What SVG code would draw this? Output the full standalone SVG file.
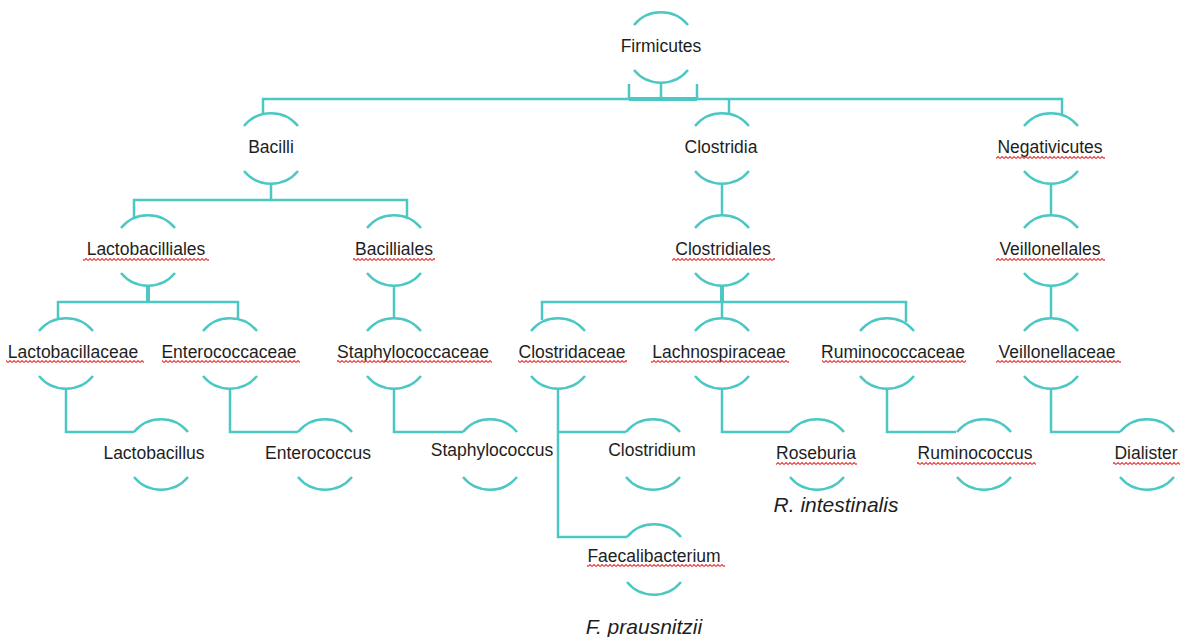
<svg xmlns="http://www.w3.org/2000/svg" xmlns:xlink="http://www.w3.org/1999/xlink" width="1189" height="637" viewBox="0 0 1189 637">
<style>
.arc{fill:none;stroke:#4cc8c4;stroke-width:2.5;stroke-linecap:butt}
.con{fill:none;stroke:#4cc8c4;stroke-width:2.5}
.lbl{font-family:"Liberation Sans","Noto Sans",sans-serif;font-size:17.5px;fill:#1e1e1e;text-anchor:middle}
.it{font-family:"Liberation Sans","Noto Sans",sans-serif;font-size:21px;font-style:italic;fill:#1e1e1e;text-anchor:middle}
.sq{fill:url(#sq)}
</style>
<defs>
<path id="arcs" d="M-27,-21 A35,35 0 0 1 27,-21 M-27,24 A35,35 0 0 0 27,24"/>
<pattern id="sq" width="4" height="3" patternUnits="userSpaceOnUse"><path d="M0,2.5 L2,0.5 L4,2.5" fill="none" stroke="#ee3b3b" stroke-width="1.1"/></pattern>
</defs>
<rect width="1189" height="637" fill="#fff"/>
<g id="connectors">
<path class="con" d="M629,84 V99 M661,82 V99 M697,84 V99"/>
<path class="con" style="stroke-width:4" d="M629,99 H697"/>
<path class="con" d="M263,115 V99 H1062 V115 M729,99 V115"/>
<path class="con" d="M271,184 V200 M134,218 V200 H407 V218"/>
<path class="con" d="M722,184 V216"/>
<path class="con" d="M1051,184 V216"/>
<path class="con" style="stroke-width:4" d="M148,286 V302"/>
<path class="con" d="M58,319 V302 H238 V320"/>
<path class="con" d="M394,286 V318"/>
<path class="con" style="stroke-width:4" d="M722,286 V302"/>
<path class="con" d="M542,320 V302 H906 V322 M722,302 V318"/>
<path class="con" d="M1051,286 V318"/>
<path class="con" d="M66,389 V432 H134"/>
<path class="con" d="M230,389 V432 H298"/>
<path class="con" d="M394,389 V432 H463"/>
<path class="con" d="M558,389 V537 H627 M558,432 H626"/>
<path class="con" d="M722,389 V432 H790"/>
<path class="con" d="M887,389 V432 H956"/>
<path class="con" d="M1051,389 V432 H1120"/>
</g>
<g id="n-firmicutes"><use xlink:href="#arcs" class="arc" transform="translate(661,46)"/><text class="lbl" x="661" y="52">Firmicutes</text></g>
<g id="n-bacilli"><use xlink:href="#arcs" class="arc" transform="translate(271,147)"/><text class="lbl" x="271" y="153">Bacilli</text></g>
<g id="n-clostridia"><use xlink:href="#arcs" class="arc" transform="translate(722,147)"/><text class="lbl" x="721" y="153">Clostridia</text></g>
<g id="n-negativicutes"><use xlink:href="#arcs" class="arc" transform="translate(1051,147)"/><text class="lbl" x="1050" y="153">Negativicutes</text><rect class="sq" x="996" y="156" width="109" height="3"/></g>
<g id="n-lactobacilliales"><use xlink:href="#arcs" class="arc" transform="translate(148,249)"/><text class="lbl" x="146" y="255">Lactobacilliales</text><rect class="sq" x="83" y="258" width="126" height="3"/></g>
<g id="n-bacilliales"><use xlink:href="#arcs" class="arc" transform="translate(394,249)"/><text class="lbl" x="394" y="255">Bacilliales</text><rect class="sq" x="353" y="258" width="82" height="3"/></g>
<g id="n-clostridiales"><use xlink:href="#arcs" class="arc" transform="translate(722,249)"/><text class="lbl" x="723" y="255">Clostridiales</text><rect class="sq" x="672" y="258" width="103" height="3"/></g>
<g id="n-veillonellales"><use xlink:href="#arcs" class="arc" transform="translate(1051,249)"/><text class="lbl" x="1050" y="255">Veillonellales</text><rect class="sq" x="996" y="258" width="109" height="3"/></g>
<g id="n-lactobacillaceae"><use xlink:href="#arcs" class="arc" transform="translate(66,352)"/><text class="lbl" x="73" y="358">Lactobacillaceae</text><rect class="sq" x="6" y="360" width="138" height="3"/></g>
<g id="n-enterococcaceae"><use xlink:href="#arcs" class="arc" transform="translate(230,352)"/><text class="lbl" x="229" y="358">Enterococcaceae</text><rect class="sq" x="162" y="360" width="138" height="3"/></g>
<g id="n-staphylococcaceae"><use xlink:href="#arcs" class="arc" transform="translate(394,352)"/><text class="lbl" x="413" y="358">Staphylococcaceae</text><rect class="sq" x="337" y="360" width="155" height="3"/></g>
<g id="n-clostridaceae"><use xlink:href="#arcs" class="arc" transform="translate(558,352)"/><text class="lbl" x="572" y="358">Clostridaceae</text><rect class="sq" x="518" y="360" width="109" height="3"/></g>
<g id="n-lachnospiraceae"><use xlink:href="#arcs" class="arc" transform="translate(722,352)"/><text class="lbl" x="719" y="358">Lachnospiraceae</text><rect class="sq" x="651" y="360" width="138" height="3"/></g>
<g id="n-ruminococcaceae"><use xlink:href="#arcs" class="arc" transform="translate(887,352)"/><text class="lbl" x="893" y="358">Ruminococcaceae</text><rect class="sq" x="822" y="360" width="144" height="3"/></g>
<g id="n-veillonellaceae"><use xlink:href="#arcs" class="arc" transform="translate(1051,352)"/><text class="lbl" x="1057" y="358">Veillonellaceae</text><rect class="sq" x="996" y="360" width="125" height="3"/></g>
<g id="n-lactobacillus"><use xlink:href="#arcs" class="arc" transform="translate(161,453)"/><text class="lbl" x="154" y="459">Lactobacillus</text></g>
<g id="n-enterococcus"><use xlink:href="#arcs" class="arc" transform="translate(325,453)"/><text class="lbl" x="318" y="459">Enterococcus</text></g>
<g id="n-staphylococcus"><use xlink:href="#arcs" class="arc" transform="translate(490,453)"/><text class="lbl" x="492" y="456">Staphylococcus</text></g>
<g id="n-clostridium"><use xlink:href="#arcs" class="arc" transform="translate(653,453)"/><text class="lbl" x="652" y="456">Clostridium</text></g>
<g id="n-roseburia"><use xlink:href="#arcs" class="arc" transform="translate(817,453)"/><text class="lbl" x="816" y="459">Roseburia</text><rect class="sq" x="776" y="462" width="81" height="3"/></g>
<g id="n-ruminococcus"><use xlink:href="#arcs" class="arc" transform="translate(984,453)"/><text class="lbl" x="975" y="459">Ruminococcus</text><rect class="sq" x="917" y="462" width="119" height="3"/></g>
<g id="n-dialister"><use xlink:href="#arcs" class="arc" transform="translate(1147,453)"/><text class="lbl" x="1146" y="459">Dialister</text><rect class="sq" x="1113" y="462" width="67" height="3"/></g>
<g id="n-faecalibacterium"><use xlink:href="#arcs" class="arc" transform="translate(654,558)"/><text class="lbl" x="654" y="562">Faecalibacterium</text><rect class="sq" x="587" y="564" width="138" height="3"/></g>
<text class="it" x="836" y="512">R. intestinalis</text>
<text class="it" x="644" y="634">F. prausnitzii</text>
</svg>
